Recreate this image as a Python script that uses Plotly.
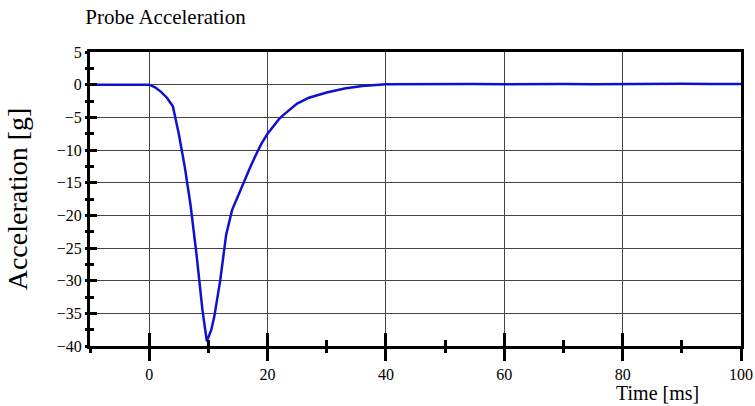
import plotly.graph_objects as go

# time in ms and probe acceleration in g
time_ms = [-10, -5, 0, 1, 2, 3, 4, 5, 6, 7, 8, 9, 9.75, 10.5, 11, 12, 13, 14, 15, 16,
           17, 18, 19, 20, 21, 22, 23, 24, 25, 27, 30, 33, 36, 40, 45, 50, 55, 60,
           65, 70, 75, 80, 85, 90, 95, 100]
accel_g = [0, 0, 0, -0.4, -1.1, -2.0, -3.3, -7.5, -12.5, -18.5, -26, -34.5, -39.3, -37.5,
           -35.5, -30, -23, -19.2, -17, -15, -12.8, -10.8, -9, -7.5, -6.3, -5.2, -4.4, -3.6,
           -2.9, -2.0, -1.2, -0.6, -0.2, 0.05, 0.1, 0.05, 0.1, 0.05, 0.1, 0.1, 0.05, 0.1,
           0.1, 0.15, 0.1, 0.1]

x_range = [-10, 100]
y_range = [-40, 5]

serif = "Liberation Serif, Times New Roman, serif"

fig = go.Figure()

# main curve
fig.add_trace(go.Scatter(x=time_ms, y=accel_g, mode="lines",
                         line=dict(color="#1010d0", width=2.5),
                         showlegend=False, xaxis="x", yaxis="y"))
# invisible copy on the overlay axes (outside half of the ticks + labels)
fig.add_trace(go.Scatter(x=time_ms, y=accel_g, mode="lines", opacity=0,
                         hoverinfo="skip", showlegend=False, xaxis="x2", yaxis="y2"))

fig.update_layout(
    width=755, height=406,
    margin=dict(l=90, r=14, t=52, b=60),
    paper_bgcolor="white", plot_bgcolor="white",
    font=dict(family=serif, size=16, color="black"),
    title=dict(text="Probe Acceleration", x=0.113, xanchor="left", y=0.96,
               yanchor="middle", font=dict(family=serif, size=21, color="black")),
    # inside half of the ticks, grid and frame
    xaxis=dict(range=x_range, tick0=0, dtick=20, showgrid=True, gridcolor="#444",
               gridwidth=1, zeroline=False, showline=True, linecolor="black",
               linewidth=3, mirror=True, ticks="inside", ticklen=13, tickwidth=3,
               tickcolor="black", showticklabels=False, automargin=False,
               minor=dict(dtick=10, ticks="inside", ticklen=6, tickwidth=3,
                          tickcolor="black", showgrid=False)),
    yaxis=dict(range=y_range, tick0=0, dtick=5, showgrid=True, gridcolor="#444",
               gridwidth=1, zeroline=False, showline=True, linecolor="black",
               linewidth=3, mirror=True, ticks="inside", ticklen=7, tickwidth=3,
               tickcolor="black", showticklabels=False, automargin=False,
               minor=dict(dtick=2.5, ticks="inside", ticklen=4, tickwidth=3,
                          tickcolor="black", showgrid=False)),
    # outside half of the ticks, with the labels
    xaxis2=dict(range=x_range, overlaying="x", matches="x", side="bottom",
                tick0=0, dtick=20, showgrid=False, zeroline=False, automargin=False,
                showticklabels=True, ticks="outside", ticklen=14, tickwidth=3,
                tickcolor="black", tickfont=dict(family=serif, size=16),
                minor=dict(dtick=10, ticks="outside", ticklen=6, tickwidth=3,
                           tickcolor="black", showgrid=False)),
    yaxis2=dict(range=y_range, overlaying="y", matches="y", side="left",
                tick0=0, dtick=5, showgrid=False, zeroline=False, automargin=False,
                showticklabels=True, ticks="outside", ticklen=4, tickwidth=3,
                tickcolor="black", tickfont=dict(family=serif, size=16),
                title=dict(text="Acceleration [g]", font=dict(family=serif, size=28),
                           standoff=20),
                minor=dict(dtick=2.5, ticks="outside", ticklen=4, tickwidth=3,
                           tickcolor="black", showgrid=False)),
)

# x axis title sits at the bottom right, under the 80 label
fig.add_annotation(text="Time [ms]", xref="paper", yref="paper", x=0.872, y=-0.16,
                   xanchor="center", yanchor="middle", showarrow=False,
                   font=dict(family=serif, size=20, color="black"))

# drop the default page margin so the figure fills the window exactly
fig.write_html("out.html", config={"displayModeBar": False},
               post_script="document.body.style.margin = '0';")
